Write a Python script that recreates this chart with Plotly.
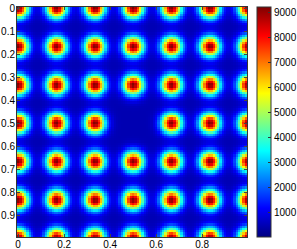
import numpy as np
import plotly.graph_objects as go

# Grid sampling of the image (imagesc style, 0:0.01:0.99)
x_vals = [round(i * 0.01, 2) for i in range(100)]
y_vals = [round(i * 0.01, 2) for i in range(100)]

# Lattice of spot centres (spacing 1/6)
spot_x = [0.0, 0.1667, 0.3333, 0.5, 0.6667, 0.8333, 1.0]
spot_y = [0.0, 0.1667, 0.3333, 0.5, 0.6667, 0.8333, 1.0]
missing_spots = [(0.5, 0.5)]

peak_value = 8750.0
spot_sigma = 0.031
baseline = 450.0

x_ticks = [0, 0.2, 0.4, 0.6, 0.8]
x_tick_text = ["0", "0.2", "0.4", "0.6", "0.8"]
y_ticks = [0, 0.1, 0.2, 0.3, 0.4, 0.5, 0.6, 0.7, 0.8, 0.9]
y_tick_text = ["0", "0.1", "0.2", "0.3", "0.4", "0.5", "0.6", "0.7", "0.8", "0.9"]
cb_ticks = [1000, 2000, 3000, 4000, 5000, 6000, 7000, 8000, 9000]

X, Y = np.meshgrid(np.array(x_vals), np.array(y_vals))
Z = np.full(X.shape, baseline)
for cx in spot_x:
    for cy in spot_y:
        if (cx, cy) in missing_spots:
            continue
        Z += peak_value * np.exp(-((X - cx) ** 2 + (Y - cy) ** 2) / (2 * spot_sigma ** 2))

jet = [
    [0.0, "rgb(0,0,128)"],
    [0.125, "rgb(0,0,255)"],
    [0.375, "rgb(0,255,255)"],
    [0.625, "rgb(255,255,0)"],
    [0.875, "rgb(255,0,0)"],
    [1.0, "rgb(128,0,0)"],
]

fig = go.Figure(
    go.Heatmap(
        x=x_vals,
        y=y_vals,
        z=Z,
        colorscale=jet,
        zmin=0,
        zmax=float(Z.max()),
        zsmooth=False,
        hoverinfo="skip",
        colorbar=dict(
            x=1.0435,
            xanchor="left",
            xref="paper",
            y=0.5,
            yanchor="middle",
            len=1,
            lenmode="fraction",
            thickness=14,
            thicknessmode="pixels",
            xpad=0,
            ypad=0,
            outlinecolor="#333",
            outlinewidth=1,
            tickvals=cb_ticks,
            ticktext=[str(t) for t in cb_ticks],
            ticks="inside",
            ticklen=3,
            tickcolor="#333",
            tickfont=dict(family="Liberation Sans, Arial", size=10, color="black"),
        ),
    )
)

fig.update_layout(
    width=297,
    height=249,
    margin=dict(l=17, r=50, t=7, b=12, autoexpand=False),
    paper_bgcolor="white",
    plot_bgcolor="white",
    font=dict(family="Liberation Sans, Arial", size=10, color="black"),
)
fig.update_xaxes(
    range=[-0.005, 0.995],
    tickvals=x_ticks,
    ticktext=x_tick_text,
    ticks="inside",
    ticklen=3,
    showline=True,
    linecolor="#333",
    linewidth=1,
    mirror="ticks",
    showgrid=False,
    zeroline=False,
    automargin=False,
    tickfont=dict(size=10),
    ticklabelstandoff=-2,
)
fig.update_yaxes(
    range=[0.995, -0.005],
    tickvals=y_ticks,
    ticktext=y_tick_text,
    ticks="inside",
    ticklen=3,
    showline=True,
    linecolor="#333",
    linewidth=1,
    mirror="ticks",
    showgrid=False,
    zeroline=False,
    automargin=False,
    tickfont=dict(size=10),
    ticklabelstandoff=-1,
)

fig.write_html(
    "out.html",
    config={"displayModeBar": False},
    post_script="document.body.style.margin='0';document.body.style.padding='0';document.body.style.overflow='hidden';",
)
